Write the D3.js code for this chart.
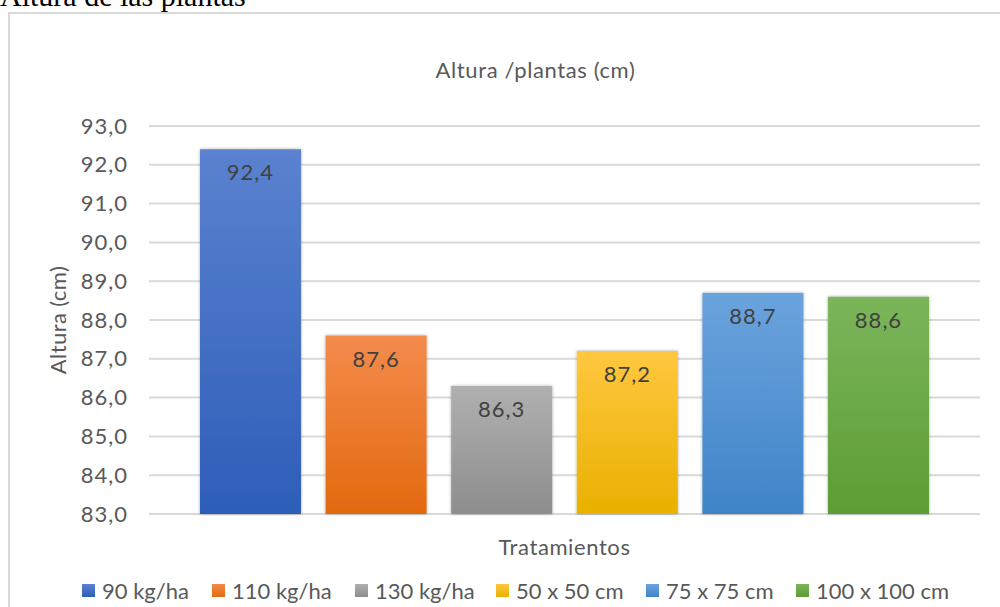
<!DOCTYPE html>
<html>
<head>
<meta charset="utf-8">
<script src="https://cdn.jsdelivr.net/npm/d3@7"></script>
<style>
  html, body { margin: 0; padding: 0; background: #fff; }
  svg { display: block; }
</style>
</head>
<body>
<svg id="chart" width="1000" height="607"></svg>
<script>
const series = ["90 kg/ha", "110 kg/ha", "130 kg/ha", "50 x 50 cm", "75 x 75 cm", "100 x 100 cm"];
const values = [92.4, 87.6, 86.3, 87.2, 88.7, 88.6];
const yTicks = [83, 84, 85, 86, 87, 88, 89, 90, 91, 92, 93];
// colori sfumati (sopra, sotto) come in Excel
const topColors = ["#5b82d0", "#f38b4d", "#b0b0b0", "#ffc73f", "#6ba3dd", "#7bb65b"];
const bottomColors = ["#2d5db8", "#e3690f", "#8d8d8d", "#e9b100", "#3f84c8", "#5d9c34"];

const FONT = "Lato, 'Open Sans', sans-serif";
const svg = d3.select("#chart");
const margin = { left: 149, right: 20, top: 126, bottom: 93 };
const W = 1000, H = 607;

const defs = svg.append("defs");
series.forEach((s, i) => {
  const g = defs.append("linearGradient")
    .attr("id", "grad" + i)
    .attr("x1", 0).attr("y1", 0).attr("x2", 0).attr("y2", 1);
  g.append("stop").attr("offset", "0%").attr("stop-color", topColors[i]);
  g.append("stop").attr("offset", "100%").attr("stop-color", bottomColors[i]);
});
defs.append("filter").attr("id", "shadow")
  .attr("x", "-10%").attr("y", "-10%").attr("width", "120%").attr("height", "120%")
  .append("feDropShadow")
  .attr("dx", 0).attr("dy", 0).attr("stdDeviation", 1.5)
  .attr("flood-color", "#000").attr("flood-opacity", 0.35);

// titolo del documento (tagliato in alto)
svg.append("text")
  .attr("x", 0).attr("y", 6)
  .attr("font-family", "'Liberation Serif', 'Times New Roman', serif")
  .attr("font-size", 30)
  .attr("fill", "#000")
  .text("Altura de las plantas");

// bordo del grafico
svg.append("rect")
  .attr("x", 9).attr("y", 13)
  .attr("width", W + 20).attr("height", H + 20)
  .attr("fill", "#fff")
  .attr("stroke", "#d9d9d9").attr("stroke-width", 2);

const y = d3.scaleLinear().domain([83, 93]).range([H - margin.bottom, margin.top]);
const x = d3.scaleBand().domain(series)
  .range([margin.left, W - margin.right])
  .paddingInner(0.196).paddingOuter(0.406);

// griglia
svg.append("g")
  .selectAll("line")
  .data(yTicks)
  .join("line")
  .attr("x1", margin.left).attr("x2", W - margin.right)
  .attr("y1", d => y(d)).attr("y2", d => y(d))
  .attr("stroke", "#d9d9d9").attr("stroke-width", 2);

const fmt = d => d3.format(".1f")(d).replace(".", ",");

// asse y
const yAxis = svg.append("g")
  .attr("transform", `translate(${margin.left},0)`)
  .call(d3.axisLeft(y).tickValues(yTicks).tickFormat(fmt).tickSize(0).tickPadding(21));
yAxis.select(".domain").remove();
yAxis.selectAll("text")
  .attr("font-family", FONT).attr("font-size", 22)
  .attr("letter-spacing", 1).attr("fill", "#595959");

// barre
svg.append("g")
  .selectAll("rect")
  .data(values)
  .join("rect")
  .attr("x", (d, i) => x(series[i]))
  .attr("width", x.bandwidth())
  .attr("y", d => y(d))
  .attr("height", d => y(83) - y(d))
  .attr("fill", (d, i) => `url(#grad${i})`)
  .attr("filter", "url(#shadow)");

// etichette dei valori
svg.append("g")
  .selectAll("text")
  .data(values)
  .join("text")
  .attr("x", (d, i) => x(series[i]) + x.bandwidth() / 2)
  .attr("y", d => y(d) + 31)
  .attr("text-anchor", "middle")
  .attr("font-family", FONT).attr("font-size", 22)
  .attr("letter-spacing", 1)
  .attr("fill", "#404040")
  .text(fmt);

// titoli
svg.append("text")
  .attr("x", (margin.left + W - margin.right) / 2 - 29).attr("y", 78)
  .attr("text-anchor", "middle")
  .attr("font-family", FONT).attr("font-size", 22)
  .attr("letter-spacing", 0.6)
  .attr("fill", "#595959")
  .text("Altura /plantas (cm)");

svg.append("text")
  .attr("transform", `translate(66, ${(y(83) + y(93)) / 2}) rotate(-90)`)
  .attr("text-anchor", "middle")
  .attr("font-family", FONT).attr("font-size", 22)
  .attr("letter-spacing", 0.4)
  .attr("fill", "#595959")
  .text("Altura (cm)");

svg.append("text")
  .attr("x", (margin.left + W - margin.right) / 2).attr("y", 555)
  .attr("text-anchor", "middle")
  .attr("font-family", FONT).attr("font-size", 22)
  .attr("letter-spacing", 0.6)
  .attr("fill", "#595959")
  .text("Tratamientos");

// legenda
const legendX = [82, 212, 355, 496, 646, 796];
const legend = svg.append("g")
  .selectAll("g")
  .data(series)
  .join("g")
  .attr("transform", (d, i) => `translate(${legendX[i]}, 591)`);
legend.append("rect")
  .attr("x", 0).attr("y", -7)
  .attr("width", 13).attr("height", 13)
  .attr("fill", (d, i) => `url(#grad${i})`);
legend.append("text")
  .attr("x", 20).attr("y", 7.5)
  .attr("font-family", FONT).attr("font-size", 22)
  .attr("fill", "#595959")
  .text(d => d);
</script>
</body>
</html>
